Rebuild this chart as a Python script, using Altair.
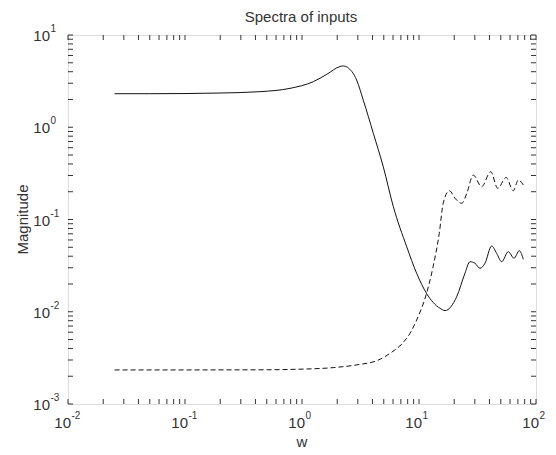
import altair as alt
import pandas as pd

# Solid curve (input 1)
solid_w = [0.025, 0.05, 0.1, 0.2, 0.437, 0.79, 1.25, 1.63, 2.11, 2.25, 2.44, 2.93, 3.34, 4.07,
           4.95, 6.03, 7.85, 9.55, 11.6, 15.1, 16.7, 21, 24.7, 27.3, 30.1, 33.2, 36.6, 41.8,
           46.1, 50.9, 58, 64.9, 72, 77.9]
solid_m = [2.31, 2.31, 2.32, 2.35, 2.43, 2.64, 3.12, 3.75, 4.55, 4.62, 4.47, 3.25, 1.97, 0.86,
           0.373, 0.138, 0.0507, 0.0261, 0.0158, 0.0109, 0.0103, 0.01456, 0.0261, 0.0349, 0.0335,
           0.0296, 0.0335, 0.0516, 0.043, 0.0349, 0.0448, 0.038, 0.0459, 0.037]

# Dashed curve (input 2)
dash_w = [0.025, 0.1, 0.5, 0.9, 1.85, 3.13, 4.35, 5.65, 7.1, 8.38, 9.55, 11.6, 13.2, 14.9,
          16.1, 18.2, 20.3, 23.2, 25.6, 29.1, 34.3, 41, 47.1, 55.5, 64, 70.6, 77.9]
dash_m = [0.00234, 0.00234, 0.00235, 0.00238, 0.00248, 0.00269, 0.00294, 0.00354, 0.00445,
          0.00584, 0.00814, 0.0158, 0.0308, 0.0708, 0.15, 0.205, 0.17, 0.15, 0.192, 0.303,
          0.227, 0.33, 0.218, 0.286, 0.205, 0.268, 0.237]

# Axes
x_decades = [0.01, 0.1, 1, 10, 100]
x_exps = ["-2", "-1", "0", "1", "2"]
y_decades = [0.001, 0.01, 0.1, 1, 10]
y_exps = ["-3", "-2", "-1", "0", "1"]
x_ticks = x_decades + [j * d for d in x_decades[:-1] for j in range(2, 10)]
y_ticks = y_decades + [j * d for d in y_decades[:-1] for j in range(2, 10)]

title_text = "Spectra of inputs"
x_title = "w"
y_title = "Magnitude"

W, H = 468, 369
FONT = "Liberation Sans"
INK = "#333333"
LINE = "#111111"

df_s = pd.DataFrame({"w": solid_w, "m": solid_m})
df_d = pd.DataFrame({"w": dash_w, "m": dash_m})
df_xt = pd.DataFrame({"t": x_ticks})
df_yt = pd.DataFrame({"t": y_ticks})
df_xl = pd.DataFrame({"v": x_decades, "b": ["10"] * 5, "e": x_exps})
df_yl = pd.DataFrame({"v": y_decades, "b": ["10"] * 5, "e": y_exps})
df_one = pd.DataFrame({"a": [0]})

xscale = alt.Scale(type="log", domain=[0.01, 100])
yscale = alt.Scale(type="log", domain=[0.001, 10])

solid = alt.Chart(df_s).mark_line(color=LINE, strokeWidth=1, interpolate="monotone").encode(
    x=alt.X("w:Q", scale=xscale, axis=None),
    y=alt.Y("m:Q", scale=yscale, axis=None),
)
dashed = alt.Chart(df_d).mark_line(color=LINE, strokeWidth=1, strokeDash=[5, 3],
                                   interpolate="monotone").encode(
    x=alt.X("w:Q", scale=xscale, axis=None),
    y=alt.Y("m:Q", scale=yscale, axis=None),
)

tk = dict(color=INK, strokeWidth=1)
xt_bot = alt.Chart(df_xt).mark_rule(**tk).encode(
    x=alt.X("t:Q", scale=xscale, axis=None), y=alt.value(H), y2=alt.value(H - 5))
xt_top = alt.Chart(df_xt).mark_rule(**tk).encode(
    x=alt.X("t:Q", scale=xscale, axis=None), y=alt.value(0), y2=alt.value(5))
yt_left = alt.Chart(df_yt).mark_rule(**tk).encode(
    y=alt.Y("t:Q", scale=yscale, axis=None), x=alt.value(0), x2=alt.value(5))
yt_right = alt.Chart(df_yt).mark_rule(**tk).encode(
    y=alt.Y("t:Q", scale=yscale, axis=None), x=alt.value(W), x2=alt.value(W - 5))

# Tick labels: base "10" plus a raised exponent
xl_base = alt.Chart(df_xl).mark_text(font=FONT, fontSize=15, color=INK, align="right",
                                     baseline="middle", dx=3).encode(
    x=alt.X("v:Q", scale=xscale, axis=None), y=alt.value(H + 19), text="b:N")
xl_exp = alt.Chart(df_xl).mark_text(font=FONT, fontSize=10, color=INK, align="left",
                                    baseline="middle", dx=3.5).encode(
    x=alt.X("v:Q", scale=xscale, axis=None), y=alt.value(H + 12), text="e:N")
yl_base = alt.Chart(df_yl).mark_text(font=FONT, fontSize=15, color=INK, align="right",
                                     baseline="middle", dy=1).encode(
    y=alt.Y("v:Q", scale=yscale, axis=None), x=alt.value(-18), text="b:N")
yl_exp = alt.Chart(df_yl).mark_text(font=FONT, fontSize=10, color=INK, align="left",
                                    baseline="middle", dy=-6).encode(
    y=alt.Y("v:Q", scale=yscale, axis=None), x=alt.value(-17.5), text="e:N")

# Titles
t_main = alt.Chart(df_one).mark_text(font=FONT, fontSize=15, color=INK, align="center",
                                     baseline="alphabetic", text=title_text).encode(
    x=alt.value(W / 2 - 1), y=alt.value(-13))
t_x = alt.Chart(df_one).mark_text(font=FONT, fontSize=15, color=INK, align="center",
                                  baseline="alphabetic", text=x_title).encode(
    x=alt.value(W / 2), y=alt.value(412))
t_y = alt.Chart(df_one).mark_text(font=FONT, fontSize=15, color=INK, align="center",
                                  baseline="alphabetic", angle=270, text=y_title).encode(
    x=alt.value(-40), y=alt.value(H / 2))

chart = alt.layer(solid, dashed, xt_bot, xt_top, yt_left, yt_right,
                  xl_base, xl_exp, yl_base, yl_exp, t_main, t_x, t_y).properties(
    width=W, height=H,
    autosize=alt.AutoSizeParams(type="none"),
    padding={"left": 60, "top": 27, "right": 12, "bottom": 50},
).configure_view(stroke=INK, strokeWidth=1).configure(background="white")

chart.save("out.html", embed_options={"renderer": "svg", "actions": False})
